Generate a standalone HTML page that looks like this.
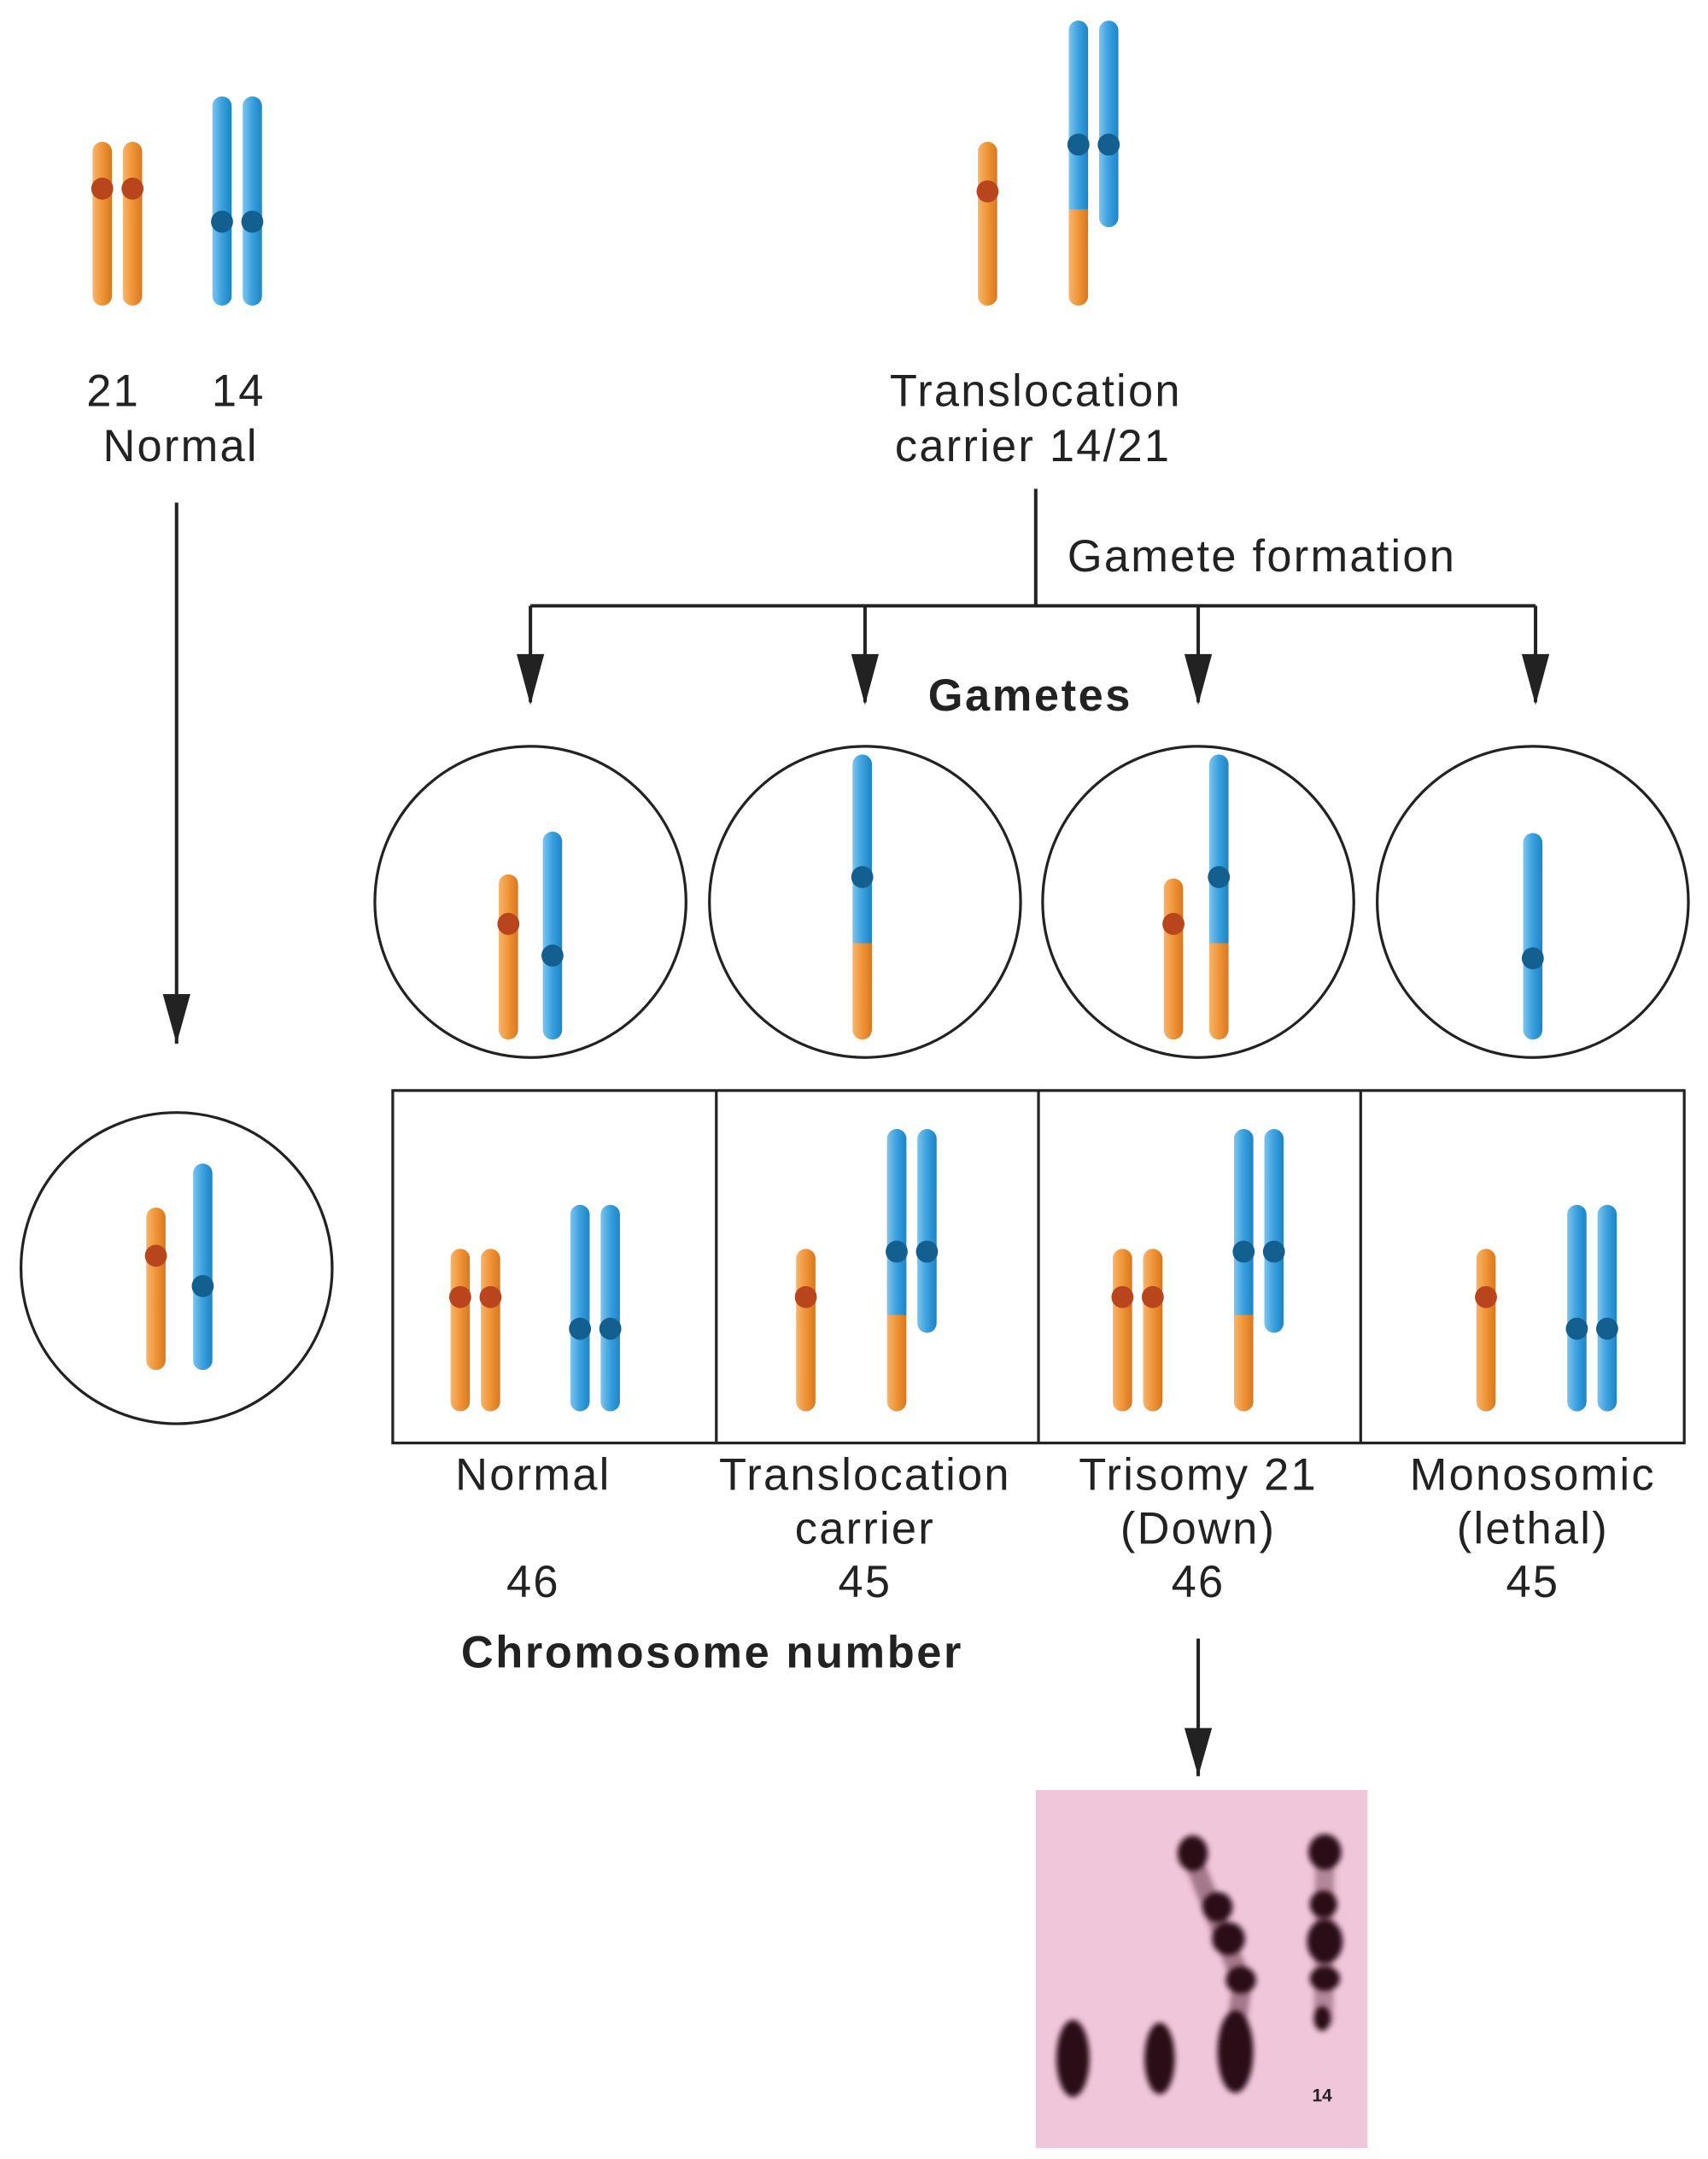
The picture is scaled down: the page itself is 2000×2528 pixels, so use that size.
<!DOCTYPE html>
<html><head><meta charset="utf-8"><style>
html,body{margin:0;padding:0;background:#fff}
svg{display:block}
text{font-family:"Liberation Sans",sans-serif;font-size:32.5px;fill:#222;letter-spacing:1.4px}
.b{font-weight:bold;letter-spacing:1.6px}
</style></head><body>
<svg width="2000" height="2528" viewBox="0 0 1240 1568" xmlns="http://www.w3.org/2000/svg">
<defs>
<linearGradient id="go" x1="0" x2="1"><stop offset="0" stop-color="#f7b46a"/><stop offset="0.5" stop-color="#ef9437"/><stop offset="1" stop-color="#d9771f"/></linearGradient>
<linearGradient id="gb" x1="0" x2="1"><stop offset="0" stop-color="#7cc4ef"/><stop offset="0.5" stop-color="#3aa0de"/><stop offset="1" stop-color="#1d84c6"/></linearGradient>
<filter id="bl"><feGaussianBlur stdDeviation="2"/></filter>
</defs>
<g stroke="#222" stroke-width="2.5" fill="none">
<line x1="128" y1="365" x2="128" y2="758"/>
<line x1="752" y1="355" x2="752" y2="440"/>
<line x1="385" y1="440" x2="1115" y2="440"/>
<line x1="870" y1="1190" x2="870" y2="1290"/>
<line x1="385" y1="440" x2="385" y2="510"/>
<line x1="628" y1="440" x2="628" y2="510"/>
<line x1="870" y1="440" x2="870" y2="510"/>
<line x1="1115" y1="440" x2="1115" y2="510"/>
</g>
<g fill="#222">
<path d="M118,722 L138,722 L128,758z"/>
<path d="M860,1255 L880,1255 L870,1290z"/>
<path d="M375,475 L395,475 L385,512z"/>
<path d="M618,475 L638,475 L628,512z"/>
<path d="M860,475 L880,475 L870,512z"/>
<path d="M1105,475 L1125,475 L1115,512z"/>
</g>
<g stroke="#222" stroke-width="2" fill="none">
<circle cx="385" cy="655" r="113"/><circle cx="628" cy="655" r="113"/><circle cx="870" cy="655" r="113"/><circle cx="1113" cy="655" r="113"/>
<circle cx="128" cy="921" r="113"/>
<rect x="285" y="792" width="938" height="256"/>
<line x1="520" y1="792" x2="520" y2="1048"/><line x1="754" y1="792" x2="754" y2="1048"/><line x1="988" y1="792" x2="988" y2="1048"/>
</g>
<rect x="752" y="1300" width="241" height="260" fill="#f0c6da"/>
<g filter="url(#bl)">
<path d="M866,1350 L902,1440 L898,1470" stroke="#5a2a3a" stroke-width="14" fill="none" opacity="0.5"/>
<line x1="962" y1="1340" x2="961" y2="1470" stroke="#5a2a3a" stroke-width="14" opacity="0.4"/>
<g fill="#2a0d18">
<ellipse cx="779" cy="1495" rx="12" ry="28"/>
<ellipse cx="842" cy="1495" rx="11" ry="26"/>
<ellipse cx="897" cy="1490" rx="13" ry="30"/>
<ellipse cx="866" cy="1346" rx="11" ry="13"/>
<ellipse cx="884" cy="1385" rx="11" ry="11"/>
<ellipse cx="892" cy="1408" rx="12" ry="12"/>
<ellipse cx="901" cy="1438" rx="11" ry="10"/>
<ellipse cx="962" cy="1345" rx="12" ry="13"/>
<ellipse cx="961" cy="1383" rx="10" ry="10"/>
<ellipse cx="962" cy="1410" rx="13" ry="16"/>
<ellipse cx="962" cy="1437" rx="11" ry="9"/>
<ellipse cx="960" cy="1466" rx="6" ry="9"/>
</g>
</g>
<text x="960" y="1526" text-anchor="middle" style="font-size:13px;font-weight:bold;letter-spacing:0">14</text>

<text x="82" y="295" text-anchor="middle">21</text>
<text x="173" y="295" text-anchor="middle">14</text>
<text x="131" y="335" text-anchor="middle">Normal</text>
<text x="752" y="295" text-anchor="middle">Translocation</text>
<text x="750" y="335" text-anchor="middle">carrier 14/21</text>
<text x="775" y="415">Gamete formation</text>
<text x="748" y="516" text-anchor="middle" class="b">Gametes</text>
<text x="387" y="1082" text-anchor="middle">Normal</text>
<text x="387" y="1160" text-anchor="middle">46</text>
<text x="628" y="1082" text-anchor="middle">Translocation</text>
<text x="628" y="1121" text-anchor="middle">carrier</text>
<text x="628" y="1160" text-anchor="middle">45</text>
<text x="870" y="1082" text-anchor="middle">Trisomy 21</text>
<text x="870" y="1121" text-anchor="middle">(Down)</text>
<text x="870" y="1160" text-anchor="middle">46</text>
<text x="1113" y="1082" text-anchor="middle">Monosomic</text>
<text x="1113" y="1121" text-anchor="middle">(lethal)</text>
<text x="1113" y="1160" text-anchor="middle">45</text>
<text x="517" y="1211" text-anchor="middle" class="b">Chromosome number</text>

<g>
<rect x="67" y="103" width="14" height="119" rx="7" fill="url(#go)"/><circle cx="74" cy="137" r="8" fill="#b8451c"/>
<rect x="89" y="103" width="14" height="119" rx="7" fill="url(#go)"/><circle cx="96" cy="137" r="8" fill="#b8451c"/>
<rect x="154" y="70" width="14" height="152" rx="7" fill="url(#gb)"/><circle cx="161" cy="161" r="8" fill="#125f90"/>
<rect x="176" y="70" width="14" height="152" rx="7" fill="url(#gb)"/><circle cx="183" cy="161" r="8" fill="#125f90"/>
<rect x="710" y="103" width="14" height="119" rx="7" fill="url(#go)"/><circle cx="717" cy="139" r="8" fill="#b8451c"/>
<rect x="776" y="15" width="14" height="207" rx="7" fill="url(#go)"/><rect x="776" y="15" width="14" height="137" rx="7" fill="url(#gb)"/><rect x="776" y="140" width="14" height="12" fill="url(#gb)"/><circle cx="783" cy="105" r="8" fill="#125f90"/>
<rect x="798" y="15" width="14" height="150" rx="7" fill="url(#gb)"/><circle cx="805" cy="105" r="8" fill="#125f90"/>
<rect x="362" y="635" width="14" height="120" rx="7" fill="url(#go)"/><circle cx="369" cy="671" r="8" fill="#b8451c"/>
<rect x="394" y="604" width="14" height="151" rx="7" fill="url(#gb)"/><circle cx="401" cy="694" r="8" fill="#125f90"/>
<rect x="619" y="548" width="14" height="207" rx="7" fill="url(#go)"/><rect x="619" y="548" width="14" height="137" rx="7" fill="url(#gb)"/><rect x="619" y="673" width="14" height="12" fill="url(#gb)"/><circle cx="626" cy="637" r="8" fill="#125f90"/>
<rect x="845" y="638" width="14" height="117" rx="7" fill="url(#go)"/><circle cx="852" cy="671" r="8" fill="#b8451c"/>
<rect x="878" y="548" width="14" height="207" rx="7" fill="url(#go)"/><rect x="878" y="548" width="14" height="137" rx="7" fill="url(#gb)"/><rect x="878" y="673" width="14" height="12" fill="url(#gb)"/><circle cx="885" cy="637" r="8" fill="#125f90"/>
<rect x="1106" y="605" width="14" height="150" rx="7" fill="url(#gb)"/><circle cx="1113" cy="696" r="8" fill="#125f90"/>
<rect x="106" y="877" width="14" height="118" rx="7" fill="url(#go)"/><circle cx="113" cy="912" r="8" fill="#b8451c"/>
<rect x="140" y="845" width="14" height="150" rx="7" fill="url(#gb)"/><circle cx="147" cy="934" r="8" fill="#125f90"/>
<rect x="327" y="907" width="14" height="118" rx="7" fill="url(#go)"/><circle cx="334" cy="942" r="8" fill="#b8451c"/>
<rect x="349" y="907" width="14" height="118" rx="7" fill="url(#go)"/><circle cx="356" cy="942" r="8" fill="#b8451c"/>
<rect x="414" y="875" width="14" height="150" rx="7" fill="url(#gb)"/><circle cx="421" cy="965" r="8" fill="#125f90"/>
<rect x="436" y="875" width="14" height="150" rx="7" fill="url(#gb)"/><circle cx="443" cy="965" r="8" fill="#125f90"/>
<rect x="578" y="907" width="14" height="118" rx="7" fill="url(#go)"/><circle cx="585" cy="942" r="8" fill="#b8451c"/>
<rect x="644" y="820" width="14" height="205" rx="7" fill="url(#go)"/><rect x="644" y="820" width="14" height="135" rx="7" fill="url(#gb)"/><rect x="644" y="943" width="14" height="12" fill="url(#gb)"/><circle cx="651" cy="909" r="8" fill="#125f90"/>
<rect x="666" y="820" width="14" height="148" rx="7" fill="url(#gb)"/><circle cx="673" cy="909" r="8" fill="#125f90"/>
<rect x="808" y="907" width="14" height="118" rx="7" fill="url(#go)"/><circle cx="815" cy="942" r="8" fill="#b8451c"/>
<rect x="830" y="907" width="14" height="118" rx="7" fill="url(#go)"/><circle cx="837" cy="942" r="8" fill="#b8451c"/>
<rect x="896" y="820" width="14" height="205" rx="7" fill="url(#go)"/><rect x="896" y="820" width="14" height="135" rx="7" fill="url(#gb)"/><rect x="896" y="943" width="14" height="12" fill="url(#gb)"/><circle cx="903" cy="909" r="8" fill="#125f90"/>
<rect x="918" y="820" width="14" height="148" rx="7" fill="url(#gb)"/><circle cx="925" cy="909" r="8" fill="#125f90"/>
<rect x="1072" y="907" width="14" height="118" rx="7" fill="url(#go)"/><circle cx="1079" cy="942" r="8" fill="#b8451c"/>
<rect x="1138" y="875" width="14" height="150" rx="7" fill="url(#gb)"/><circle cx="1145" cy="965" r="8" fill="#125f90"/>
<rect x="1160" y="875" width="14" height="150" rx="7" fill="url(#gb)"/><circle cx="1167" cy="965" r="8" fill="#125f90"/>
</g>
</svg>
</body></html>
